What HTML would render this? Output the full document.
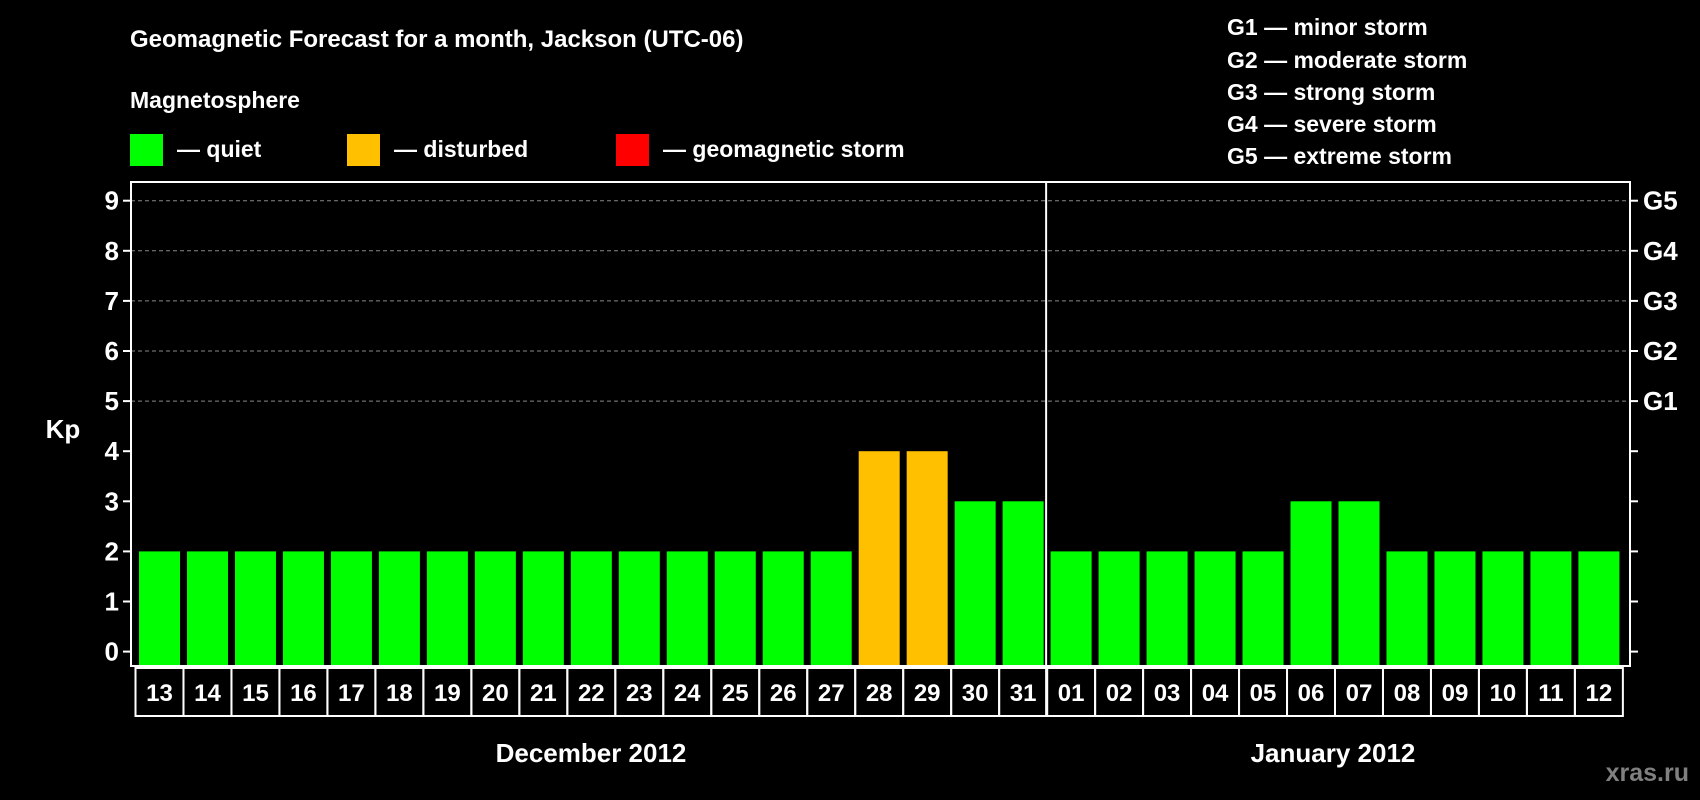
<!DOCTYPE html>
<html><head><meta charset="utf-8"><style>
html,body{margin:0;padding:0;background:#000;}
svg{display:block;font-family:"Liberation Sans",Arial,sans-serif;font-weight:bold;}
</style></head><body>
<svg id="chart" width="1700" height="800" viewBox="0 0 1700 800">
<rect width="1700" height="800" fill="#000"/>
<text x="130" y="47" fill="#fff" font-size="24">Geomagnetic Forecast for a month, Jackson (UTC-06)</text>
<text x="130" y="108" fill="#fff" font-size="23">Magnetosphere</text>
<g><rect x="130" y="134" width="33" height="32" fill="#00ff00"/><text x="177" y="157" fill="#fff" font-size="23">— quiet</text></g>
<g><rect x="347" y="134" width="33" height="32" fill="#ffc000"/><text x="394" y="157" fill="#fff" font-size="23">— disturbed</text></g>
<g><rect x="616" y="134" width="33" height="32" fill="#ff0000"/><text x="663" y="157" fill="#fff" font-size="23">— geomagnetic storm</text></g>
<g fill="#fff" font-size="23">
<text x="1227" y="35">G1 — minor storm</text>
<text x="1227" y="68">G2 — moderate storm</text>
<text x="1227" y="100">G3 — strong storm</text>
<text x="1227" y="132">G4 — severe storm</text>
<text x="1227" y="164">G5 — extreme storm</text>
</g>
<text x="63" y="438" fill="#fff" font-size="26" text-anchor="middle">Kp</text>
<text x="591" y="762" fill="#fff" font-size="26" text-anchor="middle">December 2012</text>
<text x="1333" y="762" fill="#fff" font-size="26" text-anchor="middle">January 2012</text>
<text x="1689" y="781" fill="#808080" font-size="25" text-anchor="end">xras.ru</text>
<g id="grid"></g><g id="bars"></g><g id="axes"></g><g id="days"></g>
</svg>
<script>
const days = ["13","14","15","16","17","18","19","20","21","22","23","24","25","26","27","28","29","30","31","01","02","03","04","05","06","07","08","09","10","11","12"];
const kp = [2,2,2,2,2,2,2,2,2,2,2,2,2,2,2,4,4,3,3,2,2,2,2,2,3,3,2,2,2,2,2];
const yTicks = [0,1,2,3,4,5,6,7,8,9];
const gLabels = ["G1","G2","G3","G4","G5"];
const gLevels = [5,6,7,8,9];
const NS="http://www.w3.org/2000/svg";
const L=131,R=1630,T=182,B=666,boxL=135.5,boxW=47.98;
const y=v=>651.6-v*50.1;
const x=i=>boxL+i*boxW;
function mk(tag,attrs,parent,text){const e=document.createElementNS(NS,tag);for(const k in attrs)e.setAttribute(k,attrs[k]);if(text!==undefined)e.textContent=text;parent.appendChild(e);return e;}
const grid=document.getElementById('grid'),bars=document.getElementById('bars'),axes=document.getElementById('axes'),dg=document.getElementById('days');
gLevels.forEach((v,i)=>{
 const ln=mk('line',{x1:L,x2:R,y1:y(v),y2:y(v),stroke:'#888','stroke-dasharray':'4,3','stroke-width':1},grid);
 
 
 const t=mk('text',{x:1643,y:y(v)+9,fill:'#fff','font-size':26},axes,gLabels[i]);
 
 
});
kp.forEach((v,i)=>{
 const c=v>=5?'#ff0000':(v>=4?'#ffc000':'#00ff00');
 const r=mk('rect',{x:x(i)+3.5,y:y(v),width:41,height:B-y(v),fill:c},bars);
 
 
});
mk('rect',{x:L,y:T,width:R-L,height:B-T,fill:'none',stroke:'#fff','stroke-width':2},axes);
mk('line',{x1:x(19)-1,x2:x(19)-1,y1:T,y2:B+50,stroke:'#fff','stroke-width':2},axes);
yTicks.forEach(v=>{
 mk('line',{x1:L-8,x2:L,y1:y(v),y2:y(v),stroke:'#fff','stroke-width':2},axes);
 mk('line',{x1:R,x2:R+8,y1:y(v),y2:y(v),stroke:'#fff','stroke-width':2},axes);
 const t=mk('text',{x:L-12,y:y(v)+9,fill:'#fff','font-size':26,'text-anchor':'end'},axes,String(v));
 
 
});
days.forEach((d,i)=>{
 mk('rect',{x:x(i),y:B+2,width:boxW,height:48,fill:'none',stroke:'#fff','stroke-width':2},dg);
 const t=mk('text',{x:x(i)+boxW/2,y:B+35,fill:'#fff','font-size':24,'text-anchor':'middle'},dg,d);
 
 
});
</script>
</body></html>
